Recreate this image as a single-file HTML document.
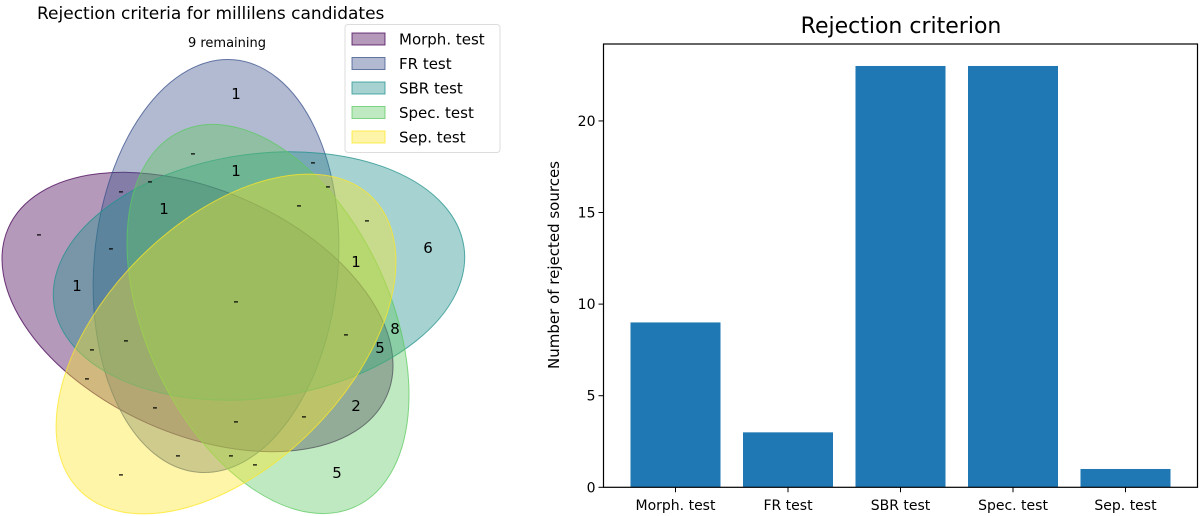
<!DOCTYPE html>
<html><head><meta charset="utf-8"><style>
html,body{margin:0;padding:0;background:#fff;overflow:hidden;width:1200px;height:516px;}
svg{display:block;font-family:"DejaVu Sans","Liberation Sans",sans-serif;}
</style></head><body>
<svg id="root" width="1200" height="516" viewBox="0 0 1200 516">
  <g id="venn">
    <text x="37" y="19" font-size="17" fill="#000">Rejection criteria for millilens candidates</text>
    <text x="227" y="47" font-size="13" text-anchor="middle">9 remaining</text>
    <g id="ellipses"></g>
    <g id="vlabels" font-size="15" text-anchor="middle"></g>
    <g>
      <rect x="345" y="24.5" width="155" height="128" rx="3" fill="#fff" fill-opacity="0.8" stroke="#ddd"/>
      <g id="legend"></g>
    </g>
  </g>
  <g id="bar">
    <text x="901" y="33" font-size="22" text-anchor="middle">Rejection criterion</text>
    <text transform="translate(559,265) rotate(-90)" font-size="15" text-anchor="middle">Number of rejected sources</text>
    <g id="bars"></g>
    <g id="axes"></g>
  </g>
</svg>
<script>
const NS='http://www.w3.org/2000/svg';
function mk(tag,attrs,parent){const e=document.createElementNS(NS,tag);for(const k in attrs)e.setAttribute(k,attrs[k]);parent.appendChild(e);return e;}

// Venn
const setNames=['Morph. test','FR test','SBR test','Spec. test','Sep. test'];
const setColors=['#440154','#3b528b','#21918c','#5ec962','#fde725'];
const eCX=[197.5,216,259,268,226];
const eCY=[312,266,276,319,344];
const eRot=[-66,5,82,-25,45];
const eg=document.getElementById('ellipses');
setNames.forEach((n,i)=>{
  const e=mk('ellipse',{cx:eCX[i],cy:eCY[i],rx:122,ry:207,fill:setColors[i],'fill-opacity':0.4,stroke:setColors[i],'stroke-opacity':0.75,'stroke-width':1,
    transform:'rotate('+eRot[i]+' '+eCX[i]+' '+eCY[i]+')'},eg);
  
  
});
const vText=['1','-','1','-','-','-','-','1','-','-','-','-','6','1','1','-','-','-','8','5','-','-','2','-','-','-','-','-','-','-','5'];
const vX=[236,193,236,313,150,328,121,164,299,367,39,111,428,356,77,236,126,346,395,380,92,87,356,155,304,236,178,231,255,121,337];
const vY=[94,153,171,162,181,186,191,209,205,220,234,248,248,262,286,301,340,334,329,348,349,378,406,407,416,421,455,455,464,474,473];
const vl=document.getElementById('vlabels');
vText.forEach((t,i)=>{
  const e=mk('text',{x:vX[i],y:vY[i]+5},vl);e.textContent=t;
  
  
});
const lg=document.getElementById('legend');
setNames.forEach((n,i)=>{
  const y=39+i*24.5;
  const r=mk('rect',{x:352,y:y-6,width:33,height:12,fill:setColors[i],'fill-opacity':0.4,stroke:setColors[i],'stroke-opacity':0.75},lg);
  
  
  const t=mk('text',{x:399,y:y+5.5,'font-size':15},lg);t.textContent=n;
  
  
});

// Bar chart
const categories=['Morph. test','FR test','SBR test','Spec. test','Sep. test'];
const values=[9,3,23,23,1];
const yTicks=[0,5,10,15,20];
const X0=603.5,X1=1197.5,Y0=487.3,YT=44;
const yMax=24.2, xMin=-0.64, xMax=4.64;
const ys=v=>Y0-(Y0-YT)*v/yMax;
const xs=v=>X0+(X1-X0)*(v-xMin)/(xMax-xMin);
const bw=(xs(0.8)-xs(0));
const bg=document.getElementById('bars');
values.forEach((v,i)=>{
  const r=mk('rect',{x:xs(i)-bw/2,y:ys(v),width:bw,height:Y0-ys(v),fill:'#1f77b4'},bg);
  
  
});
const ax=document.getElementById('axes');
const fr=mk('rect',{x:X0,y:YT,width:X1-X0,height:Y0-YT,fill:'none',stroke:'#000','stroke-width':1.2},ax);


yTicks.forEach(t=>{
  const y=ys(t);
  mk('line',{x1:X0-5,x2:X0,y1:y,y2:y,stroke:'#000'},ax);
  const l=mk('text',{x:X0-8,y:y+5,'font-size':14,'text-anchor':'end'},ax);l.textContent=t;
  
  
});
categories.forEach((c,i)=>{
  const x=xs(i);
  mk('line',{x1:x,x2:x,y1:Y0,y2:Y0+5,stroke:'#000'},ax);
  const l=mk('text',{x:x,y:510,'font-size':14,'text-anchor':'middle'},ax);l.textContent=c;
  
  
});
</script>
</body></html>
